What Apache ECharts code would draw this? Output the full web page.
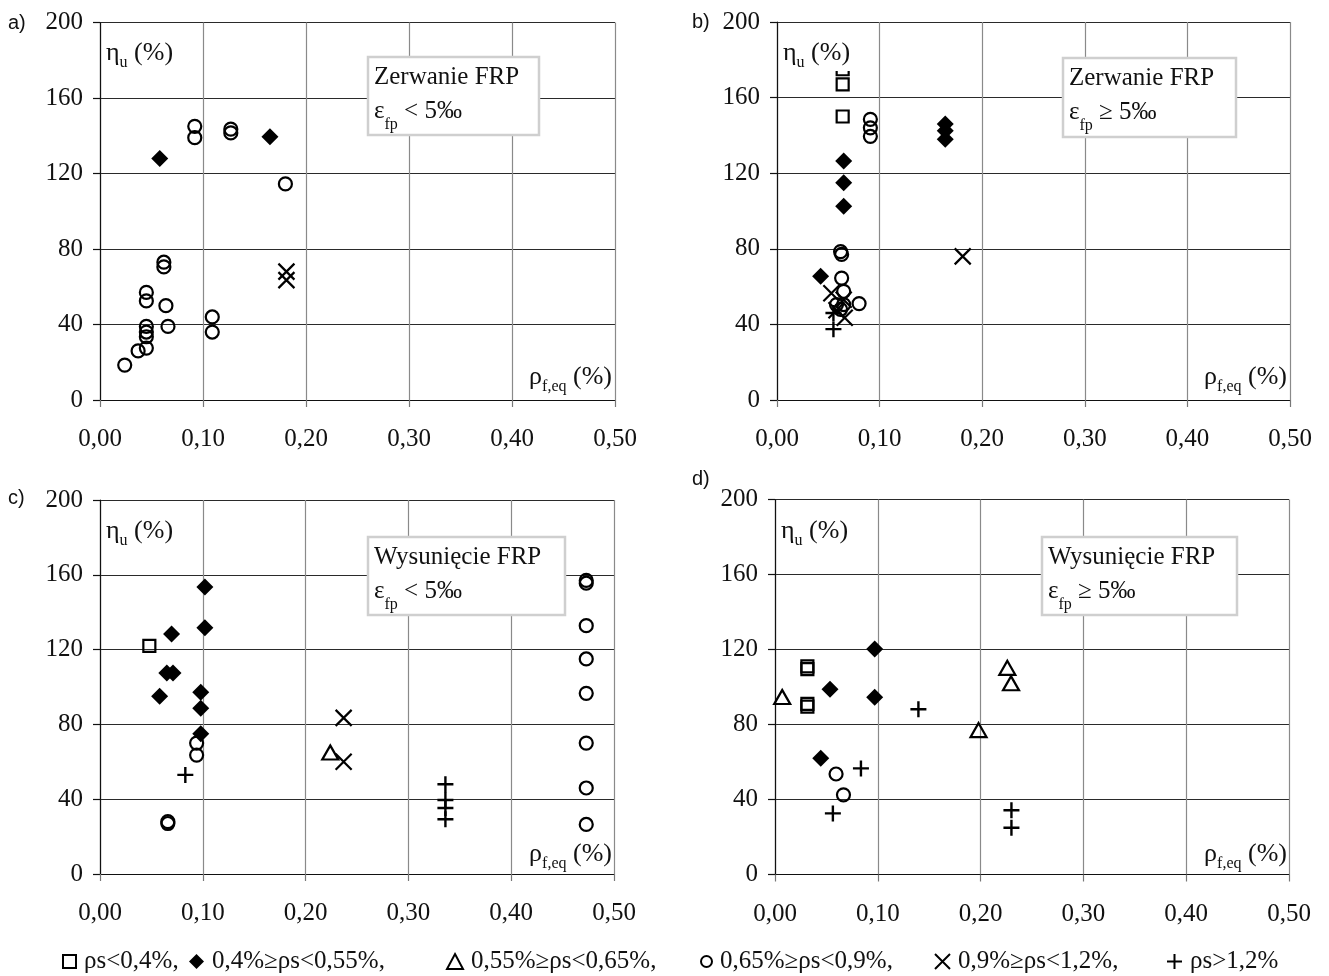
<!DOCTYPE html>
<html>
<head>
<meta charset="utf-8">
<script src="https://cdn.jsdelivr.net/npm/echarts@6/dist/echarts.min.js"></script>
<style>html,body{margin:0;padding:0;background:#fff}#c{width:1329px;height:976px}</style>
</head>
<body>
<div id="c"></div>
<script>
// ---------- data ----------
const categories = ['ρs<0,4%', '0,4%≥ρs<0,55%', '0,55%≥ρs<0,65%', '0,65%≥ρs<0,9%', '0,9%≥ρs<1,2%', 'ρs>1,2%'];
const panelLetters = ['a)', 'b)', 'c)', 'd)'];
const boxTitles = ['Zerwanie FRP', 'Zerwanie FRP', 'Wysunięcie FRP', 'Wysunięcie FRP'];
const boxConditions = ['< 5‰', '≥ 5‰', '< 5‰', '≥ 5‰'];
const xTickValues = [0, 0.1, 0.2, 0.3, 0.4, 0.5];
const yTickValues = [0, 40, 80, 120, 160, 200];

// panel a) Zerwanie FRP, eps < 5 permil
const aSquare = [];
const aDiamond = [[0.058,128],[0.165,139.5]];
const aTriangle = [];
const aCircle = [[0.092,145],[0.092,139],[0.127,143.5],[0.127,141.5],[0.180,114.5],[0.062,73],[0.062,70.5],[0.045,57],[0.045,52.5],[0.064,50],[0.045,39],[0.045,36],[0.045,33.5],[0.045,27.5],[0.066,39],[0.109,44],[0.109,36],[0.037,26],[0.024,18.5]];
const aCross = [[0.181,68],[0.181,63.5]];
const aPlus = [];

// panel b) Zerwanie FRP, eps >= 5 permil
const bSquare = [[0.064,175],[0.064,167],[0.064,150]];
const bDiamond = [[0.065,126.5],[0.065,115],[0.065,102.5],[0.0425,65.5],[0.164,146],[0.164,142.5],[0.164,138]];
const bTriangle = [];
const bCircle = [[0.091,148.5],[0.091,144],[0.091,139.5],[0.062,78.5],[0.063,77],[0.063,64.5],[0.065,57.5],[0.058,50.5],[0.065,50.5],[0.080,51],[0.062,48]];
const bCross = [[0.053,56.5],[0.065,53],[0.058,47.5],[0.066,43.5],[0.181,76]];
const bPlus = [[0.055,46],[0.055,37.5]];

// panel c) Wysuniecie FRP, eps < 5 permil
const cSquare = [[0.048,122]];
const cDiamond = [[0.102,153.5],[0.102,131.7],[0.0696,128.3],[0.065,107.5],[0.071,107.5],[0.058,95],[0.098,97.2],[0.098,88.6],[0.098,75]];
const cTriangle = [[0.224,65]];
const cCircle = [[0.094,70],[0.094,63.6],[0.066,28],[0.066,27],[0.473,157],[0.473,155.5],[0.473,132.8],[0.473,115],[0.473,96.6],[0.473,70],[0.473,46],[0.473,26.5]];
const cCross = [[0.237,83.5],[0.237,60]];
const cPlus = [[0.083,53],[0.336,48],[0.336,39.6],[0.336,35.3],[0.336,29.3]];

// panel d) Wysuniecie FRP, eps >= 5 permil
const dSquare = [[0.0315,111],[0.0315,109.5],[0.0315,91],[0.0315,89.5]];
const dDiamond = [[0.097,120.3],[0.0535,98.8],[0.097,94.5],[0.0445,62]];
const dTriangle = [[0.007,94.7],[0.226,110.2],[0.2296,102],[0.198,77]];
const dCircle = [[0.0594,53.6],[0.0666,42.5]];
const dCross = [];
const dPlus = [[0.0836,56.6],[0.1395,88.1],[0.0563,32.6],[0.23,34.3],[0.23,24.9]];

const panelData = [
  [aSquare, aDiamond, aTriangle, aCircle, aCross, aPlus],
  [bSquare, bDiamond, bTriangle, bCircle, bCross, bPlus],
  [cSquare, cDiamond, cTriangle, cCircle, cCross, cPlus],
  [dSquare, dDiamond, dTriangle, dCircle, dCross, dPlus]
];

// ---------- styles / layout ----------
const SERIF = 'Liberation Serif';
const SANS = 'Liberation Sans';
const INK = '#000';
const markerStyles = [
  {symbol:'rect', size:12, itemStyle:{color:'rgba(0,0,0,0)', borderColor:INK, borderWidth:2.2, opacity:1}},
  {symbol:'diamond', size:17, itemStyle:{color:INK, borderWidth:0, opacity:1}},
  {symbol:'triangle', size:[16,14], itemStyle:{color:'rgba(0,0,0,0)', borderColor:INK, borderWidth:2.2, opacity:1}},
  {symbol:'circle', size:13, itemStyle:{color:'rgba(0,0,0,0)', borderColor:INK, borderWidth:2.2, opacity:1}},
  {symbol:'path://M0,0L10,10M10,0L0,10', size:16, itemStyle:{color:'rgba(0,0,0,0)', borderColor:INK, borderWidth:2.2, opacity:1}},
  {symbol:'path://M5,0L5,10M0,5L10,5', size:16, itemStyle:{color:'rgba(0,0,0,0)', borderColor:INK, borderWidth:2.4, opacity:1}}
];
const legendIconSize = [[13,13],[15,15],[16,15],[11,11],[15,15],[15,15]];
const legendLeft = [62, 189, 446, 700, 934, 1166];
const grids = [
  {left:100, top:22.5, width:515, height:377.5},
  {left:777, top:22, width:513, height:378},
  {left:100, top:500, width:514, height:374},
  {left:775, top:499.5, width:514, height:375}
];
const letterPos = [[8,13],[692,12],[8,488],[692,469]];
const etaPos = [[106,35],[783,35],[106,513],[781,513]];
const rhoRight = [717, 42, 717, 42];
const rhoTop = [359, 359, 836, 836];
const boxRects = [[368,57,171,78],[1063,58,173,79],[368,537,197,78],[1042,537,195,78]];

const rich = {
  n:{fontFamily:SERIF, fontSize:26, fontWeight:'normal', color:'#111', lineHeight:36, verticalAlign:'middle'},
  s:{fontFamily:SERIF, fontSize:16, fontWeight:'normal', color:'#111', lineHeight:36, verticalAlign:'bottom'},
  s2:{fontFamily:SERIF, fontSize:16, fontWeight:'normal', color:'#111', lineHeight:44, verticalAlign:'bottom'},
  n2:{fontFamily:SERIF, fontSize:25, fontWeight:'normal', color:'#111', lineHeight:44, verticalAlign:'middle'}
};

const xAxis = [], yAxis = [], series = [], titles = [], graphics = [];
grids.forEach((g, p) => {
  xAxis.push({
    type:'value', gridIndex:p, min:xTickValues[0], max:xTickValues[xTickValues.length-1], interval:0.1,
    axisLine:{show:true, onZero:false, lineStyle:{color:'#111', width:1.2}},
    axisTick:{show:true, length:7, lineStyle:{color:'#777', width:1.2}},
    splitLine:{show:true, lineStyle:{color:'#8a8a8a', width:1.2}},
    axisLabel:{fontFamily:SERIF, fontSize:25, color:'#111', margin:27,
      formatter:v => v.toFixed(2).replace('.', ',')}
  });
  yAxis.push({
    type:'value', gridIndex:p, min:yTickValues[0], max:yTickValues[yTickValues.length-1], interval:40,
    axisLine:{show:true, onZero:false, lineStyle:{color:'#111', width:1.2}},
    axisTick:{show:true, length:7, lineStyle:{color:'#111', width:1.2}},
    splitLine:{show:true, lineStyle:{color:'#2a2a2a', width:1.2}},
    axisLabel:{fontFamily:SERIF, fontSize:25, color:'#111', margin:17}
  });
  panelData[p].forEach((d, c) => {
    if (!d.length) return;
    const m = markerStyles[c];
    series.push({
      type:'scatter', name:categories[c], xAxisIndex:p, yAxisIndex:p, data:d,
      symbol:m.symbol, symbolSize:m.size, itemStyle:m.itemStyle, z:3,
      emphasis:{disabled:true}
    });
  });
  titles.push({text:panelLetters[p], left:letterPos[p][0], top:letterPos[p][1], padding:0,
    textStyle:{fontFamily:SANS, fontSize:20, fontWeight:'normal', color:'#111'}});
  titles.push({text:'{n|η}{s|u}{n| (%)}', left:etaPos[p][0], top:etaPos[p][1], padding:[0,2,0,0], z:10,
    backgroundColor:'#fff', textStyle:{fontWeight:'normal', rich}});
  titles.push({text:'{n|ρ}{s|f,eq}{n| (%)}', right:rhoRight[p], top:rhoTop[p], padding:0, z:10,
    textStyle:{fontWeight:'normal', rich}});
  const r = boxRects[p];
  graphics.push({type:'rect', z:8, shape:{x:r[0], y:r[1], width:r[2], height:r[3]},
    style:{fill:'#fff', stroke:'#cfcfcf', lineWidth:2.5}});
  titles.push({text:boxTitles[p], left:r[0]+6, top:r[1]+5, padding:0, z:10,
    textStyle:{fontFamily:SERIF, fontSize:25, fontWeight:'normal', color:'#111', lineHeight:30}});
  titles.push({text:'{n2|ε}{s2|fp}{n2| ' + boxConditions[p] + '}', left:r[0]+6, top:r[1]+32, padding:0, z:10,
    textStyle:{fontWeight:'normal', rich}});
});

const legends = categories.map((name, c) => ({
  data:[name], left:legendLeft[c], top:949,
  itemWidth:legendIconSize[c][0], itemHeight:legendIconSize[c][1], itemGap:0, padding:0,
  selectedMode:false,
  textStyle:{fontFamily:SERIF, fontSize:25, color:'#111', padding:[0,0,0,3]},
  formatter:n => c === categories.length - 1 ? n : n + ','
}));

const chart = echarts.init(document.getElementById('c'), null, {renderer:'canvas'});
chart.setOption({
  animation:false,
  backgroundColor:'#fff',
  textStyle:{fontFamily:SERIF},
  grid:grids,
  xAxis, yAxis, series,
  title:titles,
  graphic:graphics,
  legend:legends
});
</script>
</body>
</html>
